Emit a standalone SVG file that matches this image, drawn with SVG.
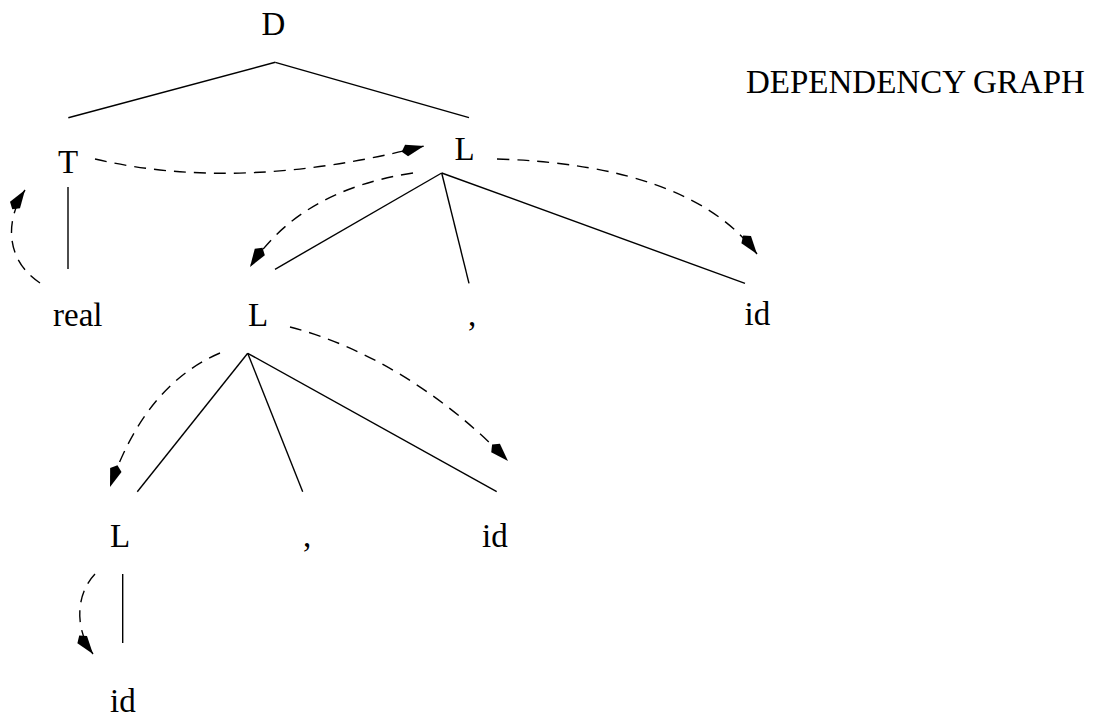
<svg xmlns="http://www.w3.org/2000/svg" width="1096" height="720" viewBox="0 0 1096 720">
<style>
text { font-family: "Liberation Serif", "Times New Roman", serif; font-size: 33px; fill: #000; }
.edge { stroke: #000; stroke-width: 1.4; fill: none; }
.dep { stroke: #000; stroke-width: 1.4; fill: none; stroke-dasharray: 12 8; marker-end: url(#ah); }
</style>
<defs>
<marker id="ah" viewBox="-26 -9 28 18" refX="0" refY="0" markerWidth="28" markerHeight="18" markerUnits="userSpaceOnUse" orient="auto">
<path d="M0,0 L-18,-6 L-23,0 L-18,6 Z" fill="#000" stroke="none"/>
</marker>
</defs>
<rect width="1096" height="720" fill="#fff"/>
<text x="746" y="93">DEPENDENCY GRAPH</text>
<g id="n-D"><text x="261.5" y="35">D</text></g>
<g id="n-T"><text x="68" y="173" text-anchor="middle">T</text></g>
<g id="n-L1"><text x="454.5" y="160">L</text></g>
<g id="n-real"><text x="53" y="326">real</text></g>
<g id="n-L2"><text x="248" y="326">L</text></g>
<g id="n-comma1"><text x="468" y="326">,</text></g>
<g id="n-id1"><text x="744.5" y="325">id</text></g>
<g id="n-L3"><text x="110" y="547">L</text></g>
<g id="n-comma2"><text x="303" y="547">,</text></g>
<g id="n-id2"><text x="482" y="547">id</text></g>
<g id="n-id3"><text x="110" y="712">id</text></g>
<g id="connectors">
<line class="edge" x1="275.3" y1="62.3" x2="68.3" y2="117.7"/>
<line class="edge" x1="275.3" y1="62.3" x2="469" y2="117.7"/>
<line class="edge" x1="68" y1="187" x2="68" y2="269"/>
<line class="edge" x1="441.7" y1="173" x2="275" y2="269.3"/>
<line class="edge" x1="441.7" y1="173" x2="469" y2="283.3"/>
<line class="edge" x1="441.7" y1="173" x2="745" y2="283.3"/>
<line class="edge" x1="247.7" y1="353.3" x2="137.3" y2="491.7"/>
<line class="edge" x1="247.7" y1="353.3" x2="302.7" y2="491.7"/>
<line class="edge" x1="247.7" y1="353.3" x2="496.7" y2="491.7"/>
<line class="edge" x1="122.7" y1="574" x2="122.7" y2="643"/>
<path class="dep" d="M95,159 Q240,193 424,146"/>
<path class="dep" d="M40,283 C5,260 5,220 25,190"/>
<path class="dep" d="M413,173 Q300,190 250,267"/>
<path class="dep" d="M497,159 Q690,165 757,254"/>
<path class="dep" d="M220,353 Q145,385 110,487"/>
<path class="dep" d="M290,327 C360,345 440,390 508,461"/>
<path class="dep" d="M95,574 C75,595 75,630 93,654"/>
</g>
</svg>
